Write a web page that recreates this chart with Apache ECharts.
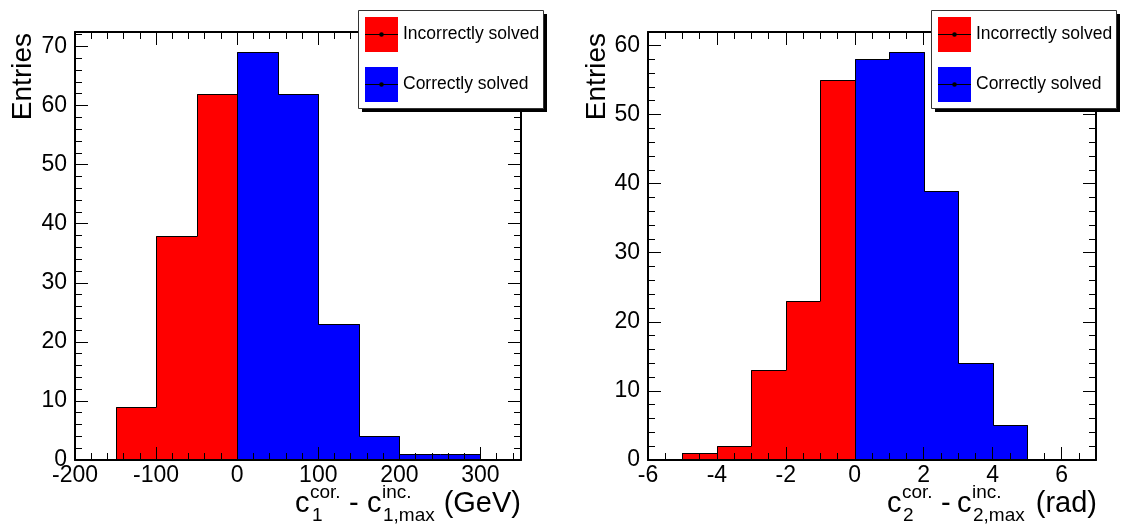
<!DOCTYPE html>
<html>
<head>
<meta charset="utf-8">
<script src="https://cdn.jsdelivr.net/npm/echarts@6/dist/echarts.min.js"></script>
<style>
  html, body { margin: 0; padding: 0; background: #fff; }
  #chart { width: 1121px; height: 524px; }
</style>
</head>
<body>
<div id="chart"></div>
<script>
// ---------- data ----------
const seriesNames = ['Incorrectly solved', 'Correctly solved'];
const leftEdgesIncorrect = [-150, -100, -50, 0];
const leftCountsIncorrect = [9, 38, 62];
const leftEdgesCorrect = [0, 50, 100, 150, 200, 250, 300];
const leftCountsCorrect = [69, 62, 23, 4, 1, 1];
const rightEdgesIncorrect = [-5, -4, -3, -2, -1, 0];
const rightCountsIncorrect = [1, 2, 13, 23, 55];
const rightEdgesCorrect = [0, 1, 2, 3, 4, 5];
const rightCountsCorrect = [58, 59, 39, 14, 5];
const leftXRange = [-200, 350];
const leftXSteps = [100, 20];
const leftYRange = [0, 72.45];
const rightXRange = [-6, 7];
const rightXSteps = [2, 0.5];
const rightYRange = [0, 61.95];
const ySteps = [10, 2];
const yTitle = 'Entries';

// ---------- styling ----------
const FONT = '"Liberation Sans", Arial, Helvetica, sans-serif';
const RED = '#ff0000';
const BLUE = '#0000ff';

function binData(edges, counts) {
  return counts.map((c, i) => [edges[i], edges[i + 1], c]);
}

function makeRender(counts, color) {
  return function (params, api) {
    const i = params.dataIndex;
    const lo = api.value(0), hi = api.value(1), c = api.value(2);
    const pBase = api.coord([lo, 0]);
    const pTop = api.coord([hi, c]);
    const x0 = Math.round(pBase[0]), x1 = Math.round(pTop[0]);
    const y0 = Math.round(pBase[1]), y1 = Math.round(pTop[1]);
    const prev = i > 0 ? counts[i - 1] : 0;
    const pts = [api.coord([lo, prev]), api.coord([lo, c]), pTop];
    if (i === counts.length - 1) pts.push(api.coord([hi, 0]));
    const sp = pts.map(p => [Math.round(p[0]) + 0.5, Math.round(p[1]) + 0.5]);
    return {
      type: 'group',
      children: [
        { type: 'rect',
          shape: { x: x0, y: y1, width: x1 - x0 + 1, height: y0 - y1 },
          style: { fill: color } },
        { type: 'polyline', shape: { points: sp },
          style: { stroke: '#000', lineWidth: 1, fill: null } }
      ]
    };
  };
}

function axisSet(kind, grid, range, steps) {
  const posMain = kind === 'x' ? 'bottom' : 'left';
  const posMirror = kind === 'x' ? 'top' : 'right';
  const common = { type: 'value', gridIndex: grid, min: range[0], max: range[1], z: 5,
                   splitLine: { show: false } };
  const mk = (pos, step, len, line, labels) => Object.assign({}, common, {
    position: pos, interval: step,
    axisLine: { show: line, onZero: false, lineStyle: { color: '#000', width: 2 } },
    axisTick: { show: true, inside: true, length: len, lineStyle: { color: '#000', width: 1 } },
    axisLabel: { show: labels, showMaxLabel: false, color: '#000', fontSize: 23, fontFamily: FONT,
                 margin: kind === 'x' ? 4 : 8 }
  });
  return [
    mk(posMain, steps[0], 13, true, true),
    mk(posMain, steps[1], 7, false, false),
    mk(posMirror, steps[0], 13, true, false),
    mk(posMirror, steps[1], 7, false, false)
  ];
}

const xAxes = axisSet('x', 0, leftXRange, leftXSteps).concat(axisSet('x', 1, rightXRange, rightXSteps));
const yAxes = axisSet('y', 0, leftYRange, ySteps).concat(axisSet('y', 1, rightYRange, ySteps));

function histSeries(name, edges, counts, color, axisIdx) {
  return {
    type: 'custom', name: name,
    xAxisIndex: axisIdx, yAxisIndex: axisIdx,
    itemStyle: { color: color },
    encode: { x: [0, 1], y: 2 },
    data: binData(edges, counts),
    renderItem: makeRender(counts, color),
    silent: true, z: 2
  };
}

function legendAt(left) {
  return {
    show: true, orient: 'vertical', left: left, top: 10,
    data: seriesNames, icon: 'rect', itemWidth: 33, itemHeight: 35, itemGap: 15,
    padding: [7, 8, 6, 7], selectedMode: false, z: 10,
    backgroundColor: 'transparent', borderWidth: 0,
    itemStyle: { borderWidth: 0 },
    textStyle: { fontSize: 17.5, fontFamily: FONT, color: '#000' }
  };
}

function legendBox(left) {
  return [
    { type: 'rect', z: 8, shape: { x: left + 4, y: 14, width: 185, height: 98 },
      style: { fill: '#000' } },
    { type: 'rect', z: 9, shape: { x: left + 0.5, y: 10.5, width: 185, height: 98 },
      style: { fill: '#fff', stroke: '#333', lineWidth: 1 } }
  ];
}

function legendMarks(swLeft) {
  const els = [];
  [34.5, 84.5].forEach(cy => {
    els.push({ type: 'line', z: 100, shape: { x1: swLeft, y1: cy, x2: swLeft + 33, y2: cy },
               style: { stroke: '#000', lineWidth: 1 } });
    els.push({ type: 'circle', z: 101, shape: { cx: swLeft + 16.5, cy: cy, r: 2.3 },
               style: { fill: '#000' } });
  });
  return els;
}

function txt(text, x, y, size, align) {
  return { type: 'text', x: x, y: y, z: 50,
           style: { text: text, font: size + 'px ' + FONT, fill: '#000',
                    textAlign: align || 'left', align: align || 'left',
                    textVerticalAlign: 'middle', verticalAlign: 'middle' } };
}

function yTitleEl(x) {
  return { type: 'text', x: x, y: 33, rotation: Math.PI / 2, z: 50,
           style: { text: yTitle, font: '28px ' + FONT, fill: '#000',
                    textAlign: 'right', align: 'right',
                    textVerticalAlign: 'middle', verticalAlign: 'middle' } };
}

const M = 29, S = 19;
const graphics = []
  .concat(legendBox(358))
  .concat(legendBox(931))
  .concat(legendMarks(365))
  .concat(legendMarks(938))
  .concat([
    yTitleEl(23), yTitleEl(597),
    // left x title: c_1^{cor.} - c_{1,max}^{inc.} (GeV)
    txt('c', 295, 504, M), txt('cor.', 310, 493, S), txt('1', 312, 516, S),
    txt('-', 349, 504, M),
    txt('c', 367, 504, M), txt('inc.', 382, 493, S), txt('1,max', 383, 516, S),
    txt('(GeV)', 521, 504, M, 'right'),
    // right x title: c_2^{cor.} - c_{2,max}^{inc.} (rad)
    txt('c', 887, 504, M), txt('cor.', 902, 493, S), txt('2', 903, 516, S),
    txt('-', 941, 504, M),
    txt('c', 957, 504, M), txt('inc.', 972, 493, S), txt('2,max', 973, 516, S),
    txt('(rad)', 1097, 504, M, 'right')
  ]);

const chart = echarts.init(document.getElementById('chart'), null, { renderer: 'canvas' });
chart.setOption({
  backgroundColor: '#fff',
  animation: false,
  grid: [
    { left: 75, top: 32, width: 446, height: 428, containLabel: false },
    { left: 648, top: 32, width: 448, height: 428, containLabel: false }
  ],
  xAxis: xAxes,
  yAxis: yAxes,
  legend: [legendAt(358), legendAt(931)],
  series: [
    histSeries(seriesNames[0], leftEdgesIncorrect, leftCountsIncorrect, RED, 0),
    histSeries(seriesNames[1], leftEdgesCorrect, leftCountsCorrect, BLUE, 0),
    histSeries(seriesNames[0], rightEdgesIncorrect, rightCountsIncorrect, RED, 4),
    histSeries(seriesNames[1], rightEdgesCorrect, rightCountsCorrect, BLUE, 4)
  ],
  graphic: graphics
});
</script>
</body>
</html>
